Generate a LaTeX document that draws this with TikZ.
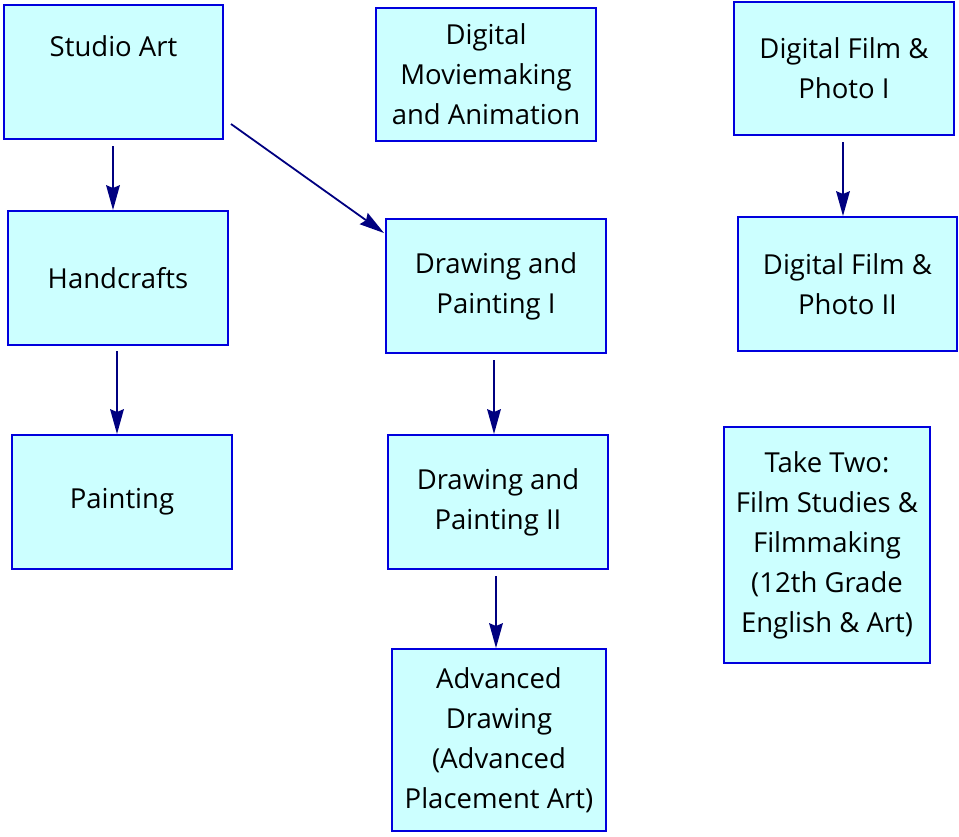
\documentclass[tikz,border=0pt]{standalone}
\usepackage{fontspec}
\setmainfont{Open Sans}
\usetikzlibrary{arrows.meta}
\definecolor{boxfill}{HTML}{CCFFFF}
\definecolor{boxline}{HTML}{0000DD}
\definecolor{arrowline}{HTML}{000080}
\tikzset{
  headtip/.tip={Stealth[length=25pt,width=14pt,inset=3pt,line width=0pt]}
}
\begin{document}
\begin{tikzpicture}[x=1pt,y=-1pt,
  box/.style={draw=boxline, fill=boxfill, line width=2pt, inner sep=0pt,
    align=center, font=\fontsize{27.5}{40}\selectfont},
  link/.style={draw=arrowline, line width=1.8pt, arrows={-headtip}}]
\useasboundingbox (0,0) rectangle (959,836);

% course boxes
\node[box, minimum width=219pt, minimum height=134pt] (studio) at (113.5,72) {Studio Art\\ \strut};
\node[box, minimum width=220pt, minimum height=133pt] (movie) at (486,74.5) {Digital\\Moviemaking\\and Animation};
\node[box, minimum width=220pt, minimum height=133pt] (filmA) at (844,68.5) {Digital Film \&\\Photo I};
\node[box, minimum width=220pt, minimum height=134pt] (hand) at (118,278) {Handcrafts};
\node[box, minimum width=220pt, minimum height=134pt] (dpA) at (496,286) {Drawing and\\Painting I};
\node[box, minimum width=219pt, minimum height=134pt] (filmB) at (847.5,284) {Digital Film \&\\Photo II};
\node[box, minimum width=220pt, minimum height=134pt] (paint) at (122,502) {Painting};
\node[box, minimum width=220pt, minimum height=134pt] (dpB) at (498,502) {Drawing and\\Painting II};
\node[box, minimum width=206pt, minimum height=236pt] (take) at (827,545) {Take Two:\\Film Studies \&\\Filmmaking\\(12th Grade\\English \& Art)};
\node[box, minimum width=214pt, minimum height=182pt] (adv) at (499,740) {Advanced\\Drawing\\(Advanced\\Placement Art)};

% prerequisite arrows
\draw[link] ([shift={(-0.5,6)}]studio.south) -- ([xshift=-0.5pt]studio.south |- hand.north);
\draw[link] ([shift={(7,-16)}]studio.south east) -- ([shift={(-1,15)}]dpA.north west);
\draw[link] ([shift={(-1,5)}]hand.south) -- ([xshift=-1pt]hand.south |- paint.north);
\draw[link] ([shift={(-2,6)}]dpA.south) -- ([xshift=-2pt]dpA.south |- dpB.north);
\draw[link] ([shift={(-2,6)}]dpB.south) -- ([xshift=-2pt]dpB.south |- adv.north);
\draw[link] ([shift={(-1,6)}]filmA.south) -- ([xshift=-1pt]filmA.south |- filmB.north);
\end{tikzpicture}
\end{document}
